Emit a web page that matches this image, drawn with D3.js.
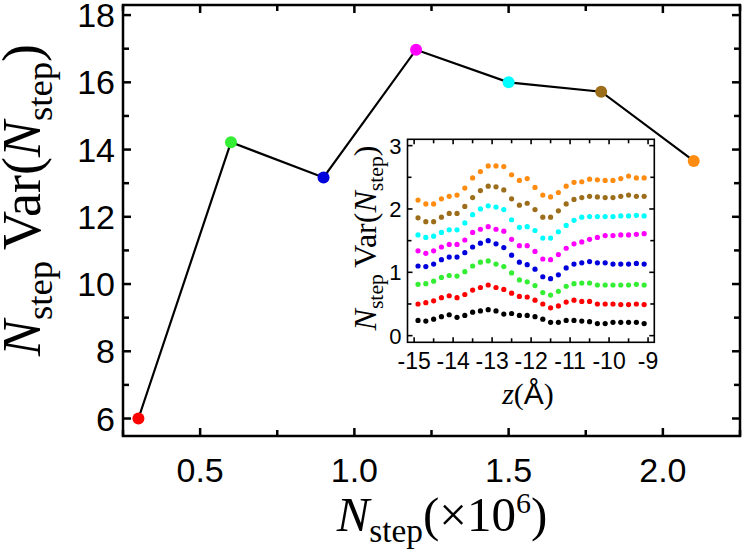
<!DOCTYPE html>
<html>
<head>
<meta charset="utf-8">
<script src="https://cdn.jsdelivr.net/npm/d3@7"></script>
<style>
  html, body { margin: 0; padding: 0; background: #fff; }
  svg { display: block; }
</style>
</head>
<body>
<div id="chart"></div>
<script>
// main panel: N_step Var(N_step) vs N_step (x10^6)
var nStep = [0.3, 0.6, 0.9, 1.2, 1.5, 1.8, 2.1];
var varMain = [6.0, 14.22, 13.17, 16.97, 16.0, 15.72, 13.66];
var runColors = ['#ff0000', '#33ee33', '#0000dd', '#ff00ff', '#00ffff', '#9c6e1c', '#ff8c10'];

var mainXTicks = [0.5, 1.0, 1.5, 2.0];
var mainYTicks = [6, 8, 10, 12, 14, 16, 18];

// inset: profiles along z (Å), one series per run, lowest first
var zInset = [-14.9, -14.7, -14.5, -14.3, -14.1, -13.9, -13.7, -13.5, -13.3, -13.1,
  -12.9, -12.7, -12.5, -12.3, -12.1, -11.9, -11.7, -11.5, -11.3, -11.1,
  -10.9, -10.7, -10.5, -10.3, -10.1, -9.9, -9.7, -9.5, -9.3, -9.1];
var insetBlack = [0.24, 0.23, 0.26, 0.30, 0.33, 0.29, 0.32, 0.37, 0.39, 0.41, 0.39, 0.34, 0.35, 0.32, 0.32,
  0.30, 0.26, 0.21, 0.21, 0.24, 0.24, 0.23, 0.22, 0.19, 0.19, 0.21, 0.21, 0.21, 0.21, 0.19];
var insetRed = [0.50, 0.52, 0.55, 0.60, 0.63, 0.60, 0.65, 0.72, 0.76, 0.80, 0.76, 0.73, 0.67, 0.62, 0.61,
  0.56, 0.50, 0.44, 0.47, 0.53, 0.56, 0.54, 0.54, 0.50, 0.50, 0.50, 0.49, 0.49, 0.50, 0.49];
var insetGreen = [0.81, 0.82, 0.86, 0.92, 0.95, 0.94, 1.01, 1.10, 1.16, 1.18, 1.13, 1.09, 0.99, 0.88, 0.85,
  0.79, 0.68, 0.64, 0.70, 0.78, 0.82, 0.83, 0.83, 0.80, 0.80, 0.80, 0.80, 0.80, 0.81, 0.80];
var insetBlue = [1.10, 1.09, 1.13, 1.20, 1.24, 1.24, 1.31, 1.40, 1.46, 1.50, 1.45, 1.39, 1.27, 1.16, 1.12,
  1.05, 0.93, 0.90, 0.96, 1.07, 1.13, 1.15, 1.17, 1.15, 1.15, 1.13, 1.13, 1.13, 1.14, 1.13];
var insetMagenta = [1.34, 1.30, 1.34, 1.40, 1.44, 1.44, 1.51, 1.63, 1.68, 1.72, 1.68, 1.65, 1.52, 1.42, 1.42,
  1.33, 1.21, 1.20, 1.28, 1.38, 1.45, 1.48, 1.52, 1.55, 1.58, 1.58, 1.59, 1.59, 1.60, 1.61];
var insetCyan = [1.59, 1.55, 1.57, 1.63, 1.67, 1.67, 1.78, 1.91, 2.00, 2.05, 2.03, 1.99, 1.83, 1.71, 1.72,
  1.66, 1.54, 1.54, 1.64, 1.74, 1.82, 1.87, 1.88, 1.88, 1.88, 1.88, 1.89, 1.89, 1.90, 1.89];
var insetBrown = [1.86, 1.80, 1.80, 1.87, 1.93, 1.93, 2.04, 2.18, 2.29, 2.36, 2.35, 2.30, 2.16, 2.06, 2.09,
  1.99, 1.87, 1.87, 1.97, 2.08, 2.15, 2.18, 2.20, 2.19, 2.18, 2.18, 2.20, 2.22, 2.20, 2.20];
var insetOrange = [2.14, 2.08, 2.08, 2.16, 2.20, 2.22, 2.33, 2.49, 2.59, 2.68, 2.68, 2.67, 2.54, 2.45, 2.48,
  2.34, 2.22, 2.19, 2.26, 2.36, 2.42, 2.43, 2.47, 2.46, 2.45, 2.45, 2.48, 2.52, 2.49, 2.49];
var insetSeries = [
  { color: '#000000', values: insetBlack },
  { color: runColors[0], values: insetRed },
  { color: runColors[1], values: insetGreen },
  { color: runColors[2], values: insetBlue },
  { color: runColors[3], values: insetMagenta },
  { color: runColors[4], values: insetCyan },
  { color: runColors[5], values: insetBrown },
  { color: runColors[6], values: insetOrange }
];
var insetXTicks = [-15, -14, -13, -12, -11, -10, -9];
var insetYTicks = [0, 1, 2, 3];

var W = 750, H = 553;
var sans = '"Liberation Sans", Arial, Helvetica, sans-serif';
var serif = '"Liberation Serif", "Times New Roman", serif';

var svg = d3.select('#chart').append('svg')
  .attr('width', W).attr('height', H);

// ---- main panel
var main = { left: 123, right: 740, top: 5, bottom: 436 };
var x = d3.scaleLinear().domain([0.25, 2.25]).range([main.left, main.right]);
var y = d3.scaleLinear().domain([5.48, 18.3]).range([main.bottom, main.top]);

function frameTicks(g, xs, ys, box, xTickVals, yTickVals, xMinor, yMinor, len, minorLen, sw) {
  // ticks pointing inward on all four sides
  xMinor.forEach(function (v) {
    var l = xTickVals.indexOf(v) >= 0 ? len : minorLen;
    g.append('line').attr('x1', xs(v)).attr('x2', xs(v)).attr('y1', box.bottom).attr('y2', box.bottom - l);
    g.append('line').attr('x1', xs(v)).attr('x2', xs(v)).attr('y1', box.top).attr('y2', box.top + l);
  });
  yMinor.forEach(function (v) {
    var l = yTickVals.indexOf(v) >= 0 ? len : minorLen;
    g.append('line').attr('y1', ys(v)).attr('y2', ys(v)).attr('x1', box.left).attr('x2', box.left + l);
    g.append('line').attr('y1', ys(v)).attr('y2', ys(v)).attr('x1', box.right).attr('x2', box.right - l);
  });
  g.selectAll('line').attr('stroke', '#000').attr('stroke-width', sw);
  g.append('rect')
    .attr('x', box.left).attr('y', box.top)
    .attr('width', box.right - box.left).attr('height', box.bottom - box.top)
    .attr('fill', 'none').attr('stroke', '#000').attr('stroke-width', sw);
}

var mainXAll = d3.range(0.25, 2.2501, 0.25).map(function (v) { return +v.toFixed(2); });
var mainYAll = d3.range(6, 18.01, 1);
frameTicks(svg.append('g'), x, y, main, mainXTicks, mainYTicks, mainXAll, mainYAll, 8, 6, 2.5);

svg.append('g').selectAll('text')
  .data(mainYTicks).join('text')
  .attr('x', main.left - 8).attr('y', function (d) { return y(d) + 12; })
  .attr('text-anchor', 'end')
  .attr('font-family', sans).attr('font-size', 34)
  .text(function (d) { return d; });

svg.append('g').selectAll('text')
  .data(mainXTicks).join('text')
  .attr('x', function (d) { return x(d); }).attr('y', 482)
  .attr('text-anchor', 'middle')
  .attr('font-family', sans).attr('font-size', 34)
  .text(function (d) { return d.toFixed(1); });

var line = d3.line()
  .x(function (d, i) { return x(nStep[i]); })
  .y(function (d) { return y(d); });
svg.append('path').datum(varMain)
  .attr('d', line).attr('fill', 'none')
  .attr('stroke', '#000').attr('stroke-width', 2.2);

svg.append('g').selectAll('circle')
  .data(varMain).join('circle')
  .attr('cx', function (d, i) { return x(nStep[i]); })
  .attr('cy', function (d) { return y(d); })
  .attr('r', 6)
  .attr('fill', function (d, i) { return runColors[i]; });

// axis labels (math style)
function nStepLabel(t, size) {
  t.append('tspan').attr('font-style', 'italic').text('N');
  t.append('tspan').attr('font-size', size * 0.68).attr('dy', size * 0.22).text('step');
}

var xl = svg.append('text')
  .attr('x', 442).attr('y', 531)
  .attr('text-anchor', 'middle')
  .attr('font-family', serif).attr('font-size', 49);
nStepLabel(xl, 49);
xl.append('tspan').attr('dy', -49 * 0.22).text('(×10');
xl.append('tspan').attr('font-size', 30).attr('dy', -18).text('6');
xl.append('tspan').attr('dy', 18).text(')');

var yl = svg.append('text')
  .attr('transform', 'translate(40,200) rotate(-90)')
  .attr('text-anchor', 'middle')
  .attr('font-family', serif).attr('font-size', 54);
nStepLabel(yl, 54);
yl.append('tspan').attr('dy', -54 * 0.22).text('\u2009Var(');
nStepLabel(yl, 54);
yl.append('tspan').attr('dy', -54 * 0.22).text(')');

// ---- inset
var ins = { left: 407.5, right: 654.3, top: 139.3, bottom: 342.3 };
var xi = d3.scaleLinear().domain([-15.17, -8.84]).range([ins.left, ins.right]);
var yi = d3.scaleLinear().domain([-0.105, 3.1]).range([ins.bottom, ins.top]);

svg.append('rect')
  .attr('x', ins.left).attr('y', ins.top)
  .attr('width', ins.right - ins.left).attr('height', ins.bottom - ins.top)
  .attr('fill', '#fff');

var insXAll = d3.range(-15, -8.99, 0.5);
var insYAll = d3.range(0, 3.01, 0.5);
frameTicks(svg.append('g'), xi, yi, ins, insetXTicks, insetYTicks, insXAll, insYAll, 5, 4, 1.6);

svg.append('g').selectAll('g')
  .data(insetSeries).join('g')
  .attr('fill', function (d) { return d.color; })
  .selectAll('circle')
  .data(function (d) { return d.values; }).join('circle')
  .attr('cx', function (d, i) { return xi(zInset[i]); })
  .attr('cy', function (d) { return yi(d); })
  .attr('r', 2.6);

svg.append('g').selectAll('text')
  .data(insetYTicks).join('text')
  .attr('x', ins.left - 6).attr('y', function (d) { return yi(d) + 8; })
  .attr('text-anchor', 'end')
  .attr('font-family', sans).attr('font-size', 22)
  .text(function (d) { return d; });

svg.append('g').selectAll('text')
  .data(insetXTicks).join('text')
  .attr('x', function (d) { return xi(d); }).attr('y', 369)
  .attr('text-anchor', 'middle')
  .attr('font-family', sans).attr('font-size', 23)
  .text(function (d) { return '-' + Math.abs(d); });

var zl = svg.append('text')
  .attr('x', 528).attr('y', 404)
  .attr('text-anchor', 'middle')
  .attr('font-family', serif).attr('font-size', 30);
zl.append('tspan').attr('font-style', 'italic').text('z');
zl.append('tspan').text('(');
zl.append('tspan').attr('font-family', sans).text('Å');
zl.append('tspan').text(')');

var iyl = svg.append('text')
  .attr('transform', 'translate(376,238) rotate(-90)')
  .attr('text-anchor', 'middle')
  .attr('font-family', serif).attr('font-size', 32);
nStepLabel(iyl, 32);
iyl.append('tspan').attr('dy', -32 * 0.22).text('\u2009Var(');
nStepLabel(iyl, 32);
iyl.append('tspan').attr('dy', -32 * 0.22).text(')');
</script>
</body>
</html>
